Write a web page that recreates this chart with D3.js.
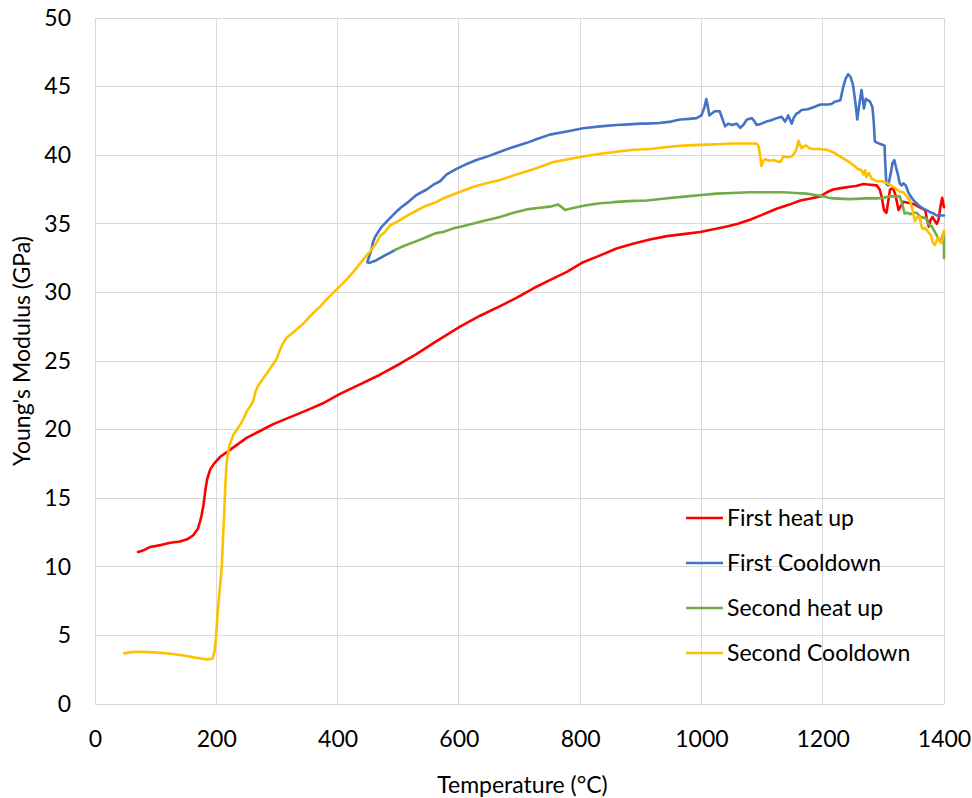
<!DOCTYPE html>
<html>
<head>
<meta charset="utf-8">
<script src="https://cdn.jsdelivr.net/npm/d3@7"></script>
<style>
  html, body { margin: 0; padding: 0; background: #fff; }
  svg text { font-family: Lato, "Open Sans", "Liberation Sans", sans-serif; fill: #000; }
</style>
</head>
<body>
<svg id="chart" width="972" height="798"></svg>
<script>
// Young's modulus (GPa) against temperature (°C), four thermal passes
const seriesNames = ["First heat up", "First Cooldown", "Second heat up", "Second Cooldown"];
const seriesColors = ["#FF0000", "#4472C4", "#70AD47", "#FFC000"];
const xTicks = [0, 200, 400, 600, 800, 1000, 1200, 1400];
const yTicks = [0, 5, 10, 15, 20, 25, 30, 35, 40, 45, 50];

const firstHeatUp = [
  [71,11.08],[80,11.2],[91,11.45],[110,11.6],[124,11.75],[140,11.85],[152,12.0],[162,12.3],[170,12.8],
  [175,13.6],[179,14.5],[182,15.6],[185,16.4],[190,17.1],[196,17.5],[206,18.0],[222,18.5],[250,19.4],
  [272,19.9],[294,20.4],[327,21.0],[349,21.4],[375,21.9],[404,22.6],[437,23.3],[470,24.0],[503,24.8],
  [530,25.5],[558,26.3],[580,26.9],[602,27.5],[635,28.3],[668,29.0],[695,29.6],[723,30.3],[750,30.9],
  [778,31.5],[805,32.2],[833,32.7],[860,33.2],[887,33.55],[915,33.85],[943,34.1],[970,34.25],[998,34.4],
  [1020,34.6],[1042,34.8],[1060,35.0],[1080,35.3],[1100,35.65],[1124,36.1],[1145,36.4],[1163,36.7],
  [1180,36.85],[1196,37.0],[1207,37.3],[1217,37.5],[1230,37.6],[1245,37.7],[1255,37.75],[1267,37.9],
  [1278,37.85],[1289,37.8],[1294,37.5],[1297,37.0],[1301,36.0],[1305,35.8],[1308,36.6],[1311,37.5],
  [1316,37.6],[1320,37.1],[1325,36.0],[1329,36.3],[1333,36.6],[1344,36.5],[1352,36.4],[1360,36.2],
  [1369,36.0],[1372,35.3],[1375,34.8],[1378,35.3],[1381,35.5],[1385,35.2],[1388,35.0],[1391,35.3],
  [1394,36.2],[1397,36.9],[1400,36.2]
];

const firstCooldown = [
  [1400,35.6],[1394,35.6],[1388,35.6],[1383,35.75],[1377,35.85],[1371,36.0],[1366,36.1],[1358,36.35],
  [1350,36.7],[1345,37.0],[1341,37.3],[1337,37.8],[1333,37.95],[1330,37.8],[1327,37.95],[1324,38.6],
  [1321,39.1],[1318,39.65],[1315,39.4],[1311,38.4],[1308,37.8],[1305,37.9],[1303,39.5],[1302,40.7],
  [1296,40.8],[1290,40.9],[1286,41.0],[1284,42.5],[1282,43.5],[1278,43.9],[1271,44.1],[1268,43.4],
  [1264,44.75],[1260,43.6],[1257,42.6],[1254,43.8],[1250,45.1],[1246,45.7],[1242,45.9],[1238,45.6],
  [1234,45.0],[1229,44.0],[1220,43.9],[1215,43.75],[1210,43.7],[1196,43.7],[1185,43.5],[1175,43.35],
  [1165,43.3],[1160,43.1],[1157,43.05],[1152,42.7],[1149,42.3],[1146,42.6],[1143,42.9],[1140,42.6],
  [1138,42.45],[1132,42.8],[1124,42.7],[1115,42.55],[1107,42.45],[1099,42.3],[1091,42.2],[1087,42.5],
  [1083,42.7],[1075,42.6],[1069,42.2],[1064,42.0],[1058,42.3],[1050,42.2],[1044,42.3],[1039,42.1],
  [1035,42.6],[1030,43.2],[1022,43.2],[1016,43.0],[1013,42.9],[1010,43.7],[1008,44.1],[1005,43.5],
  [1000,42.9],[992,42.7],[980,42.65],[965,42.6],[950,42.45],[930,42.35],[910,42.3],[899,42.3],
  [880,42.25],[860,42.2],[833,42.1],[805,41.96],[780,41.75],[750,41.5],[730,41.2],[712,40.9],
  [690,40.6],[668,40.25],[650,39.95],[629,39.65],[610,39.3],[596,39.0],[580,38.6],[569,38.1],
  [558,37.85],[547,37.5],[530,37.1],[517,36.6],[505,36.2],[495,35.8],[484,35.3],[473,34.8],
  [467,34.4],[462,34.05],[458,33.6],[456,33.1],[452,32.6],[449,32.2],[452,32.15],[462,32.3],
  [470,32.5],[478,32.7],[487,32.9],[495,33.1]
];

const secondHeatUp = [
  [495,33.1],[510,33.4],[528,33.7],[545,34.0],[561,34.3],[574,34.4],[590,34.65],[613,34.9],[640,35.2],
  [668,35.5],[690,35.8],[712,36.05],[730,36.15],[750,36.25],[764,36.4],[770,36.2],[775,36.0],[783,36.1],
  [794,36.2],[810,36.35],[833,36.5],[850,36.55],[860,36.6],[880,36.65],[910,36.7],[940,36.85],
  [976,37.0],[1000,37.1],[1025,37.2],[1050,37.25],[1080,37.3],[1110,37.3],[1135,37.3],[1155,37.25],
  [1173,37.2],[1188,37.1],[1201,37.0],[1210,36.9],[1217,36.85],[1245,36.8],[1272,36.85],[1289,36.85],
  [1300,36.9],[1311,37.0],[1327,37.0],[1331,36.5],[1335,35.75],[1340,35.8],[1344,35.7],[1350,35.8],
  [1355,35.8],[1361,35.5],[1366,35.45],[1371,35.4],[1374,35.0],[1380,34.8],[1385,34.4],[1390,34.0],
  [1393,33.8],[1396,33.8],[1398,34.2],[1400,34.4],[1400,32.5]
];

const secondCooldown = [
  [48,3.69],[60,3.78],[74,3.81],[90,3.78],[107,3.74],[125,3.66],[140,3.57],[152,3.5],[162,3.40],
  [172,3.33],[184,3.25],[190,3.27],[194,3.32],[197,3.8],[199,4.6],[201,5.8],[203,7.1],[206,8.5],
  [209,10.0],[211,12.0],[213,13.9],[215,16.0],[217,17.5],[220,18.5],[223,19.0],[228,19.6],[234,20.0],
  [240,20.4],[246,20.9],[250,21.3],[256,21.7],[261,22.1],[265,22.8],[269,23.2],[277,23.7],[285,24.2],
  [294,24.8],[300,25.2],[305,25.8],[310,26.3],[316,26.7],[327,27.1],[343,27.7],[360,28.5],[372,29.0],
  [382,29.5],[398,30.2],[412,30.8],[426,31.5],[437,32.1],[448,32.7],[456,33.1],[464,33.6],[470,34.1],
  [478,34.4],[487,34.9],[500,35.2],[515,35.6],[530,35.95],[545,36.3],[561,36.55],[574,36.85],[600,37.3],
  [624,37.7],[645,37.95],[668,38.2],[695,38.6],[723,38.97],[740,39.25],[756,39.5],[780,39.7],[805,39.9],
  [833,40.1],[860,40.25],[888,40.4],[915,40.45],[943,40.6],[970,40.7],[998,40.75],[1025,40.8],
  [1053,40.85],[1075,40.85],[1091,40.85],[1094,40.7],[1096,40.2],[1098,39.6],[1099,39.2],[1102,39.6],
  [1105,39.7],[1112,39.6],[1119,39.65],[1125,39.55],[1130,39.5],[1135,39.9],[1142,39.85],[1149,39.9],
  [1154,40.2],[1157,40.5],[1160,41.05],[1163,40.7],[1165,40.5],[1169,40.65],[1173,40.7],[1178,40.5],
  [1185,40.45],[1195,40.45],[1207,40.4],[1218,40.2],[1229,39.9],[1240,39.6],[1250,39.3],[1258,39.0],
  [1264,38.9],[1267,38.6],[1270,38.9],[1272,38.4],[1276,38.7],[1281,38.3],[1289,38.1],[1297,38.1],
  [1305,38.0],[1316,37.7],[1327,37.35],[1333,37.3],[1340,36.9],[1344,36.7],[1348,36.0],[1352,35.2],
  [1356,35.5],[1360,35.5],[1363,34.8],[1366,34.6],[1369,34.7],[1374,34.4],[1378,34.2],[1382,33.6],
  [1385,33.45],[1390,34.0],[1393,33.7],[1396,33.6],[1398,34.0],[1400,34.5]
];

const allSeries = [firstHeatUp, firstCooldown, secondHeatUp, secondCooldown];

const svg = d3.select("#chart");
const margin = { left: 95, top: 18, right: 28, bottom: 94 };
const W = 972, H = 798;
const plotW = W - margin.left - margin.right;
const plotH = H - margin.top - margin.bottom;
const fontSize = 23;

const x = d3.scaleLinear().domain([0, 1400]).range([0, plotW]);
const y = d3.scaleLinear().domain([0, 50]).range([plotH, 0]);

const g = svg.append("g").attr("transform", `translate(${margin.left},${margin.top})`);

// grid
const gridColor = "#d9d9d9";
g.append("g").selectAll("line.h").data(yTicks).join("line")
  .attr("x1", 0).attr("x2", plotW)
  .attr("y1", d => y(d)).attr("y2", d => y(d))
  .attr("stroke", gridColor).attr("stroke-width", 1).attr("shape-rendering", "crispEdges");
g.append("g").selectAll("line.v").data(xTicks).join("line")
  .attr("x1", d => x(d)).attr("x2", d => x(d))
  .attr("y1", 0).attr("y2", plotH)
  .attr("stroke", gridColor).attr("stroke-width", 1).attr("shape-rendering", "crispEdges");

// axes
const xAxis = g.append("g").attr("transform", `translate(0,${plotH})`)
  .call(d3.axisBottom(x).tickValues(xTicks).tickSize(0).tickPadding(27).tickFormat(d3.format("d")));
const yAxis = g.append("g")
  .call(d3.axisLeft(y).tickValues(yTicks).tickSize(0).tickPadding(24).tickFormat(d3.format("d")));
[xAxis, yAxis].forEach(a => {
  a.select(".domain").remove();
  a.selectAll("text").attr("font-size", fontSize).attr("font-family", "Lato, 'Open Sans', sans-serif").attr("fill", "#000");
});

// series lines
const line = d3.line().x(d => x(d[0])).y(d => y(d[1])).curve(d3.curveLinear);
const lines = g.append("g");
allSeries.forEach((s, i) => {
  lines.append("path")
    .datum(s)
    .attr("fill", "none")
    .attr("stroke", seriesColors[i])
    .attr("stroke-width", 2.6)
    .attr("stroke-linejoin", "round")
    .attr("stroke-linecap", "round")
    .attr("d", line);
});

// axis titles
svg.append("text")
  .attr("x", margin.left + plotW / 2 + 3).attr("y", 793)
  .attr("text-anchor", "middle").attr("font-size", fontSize)
  .text("Temperature (°C)");
svg.append("text")
  .attr("transform", `translate(30,351) rotate(-90)`)
  .attr("text-anchor", "middle").attr("font-size", fontSize)
  .text("Young's Modulus (GPa)");

// legend
const legend = svg.append("g").attr("transform", "translate(686,518)");
seriesNames.forEach((name, i) => {
  const row = legend.append("g").attr("transform", `translate(0,${i * 45})`);
  row.append("line").attr("x1", 0).attr("x2", 37).attr("y1", 0).attr("y2", 0)
    .attr("stroke", seriesColors[i]).attr("stroke-width", 2.6);
  row.append("text").attr("x", 41).attr("y", 0).attr("dy", "0.35em")
    .attr("font-size", fontSize).text(name);
});
</script>
</body>
</html>
